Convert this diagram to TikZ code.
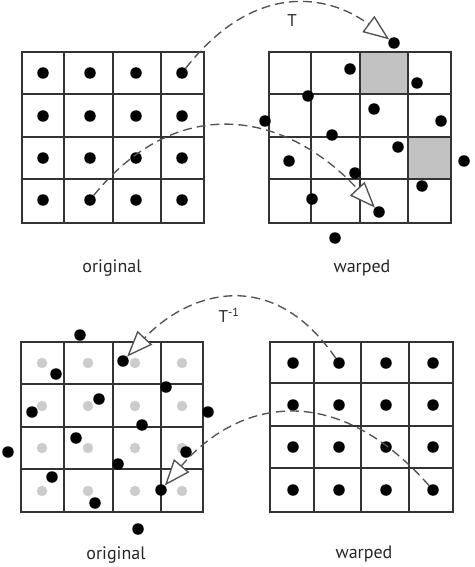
\documentclass[tikz,border=0pt]{standalone}
\usepackage{fontspec}
\setmainfont{PT Sans}
\usetikzlibrary{arrows.meta}
\begin{document}
\begin{tikzpicture}[x=1pt,y=-1pt,
  gridline/.style={draw=black!80, line width=1.3pt},
  cellfill/.style={fill=black!24},
  dot/.style={circle, fill=black, inner sep=0pt, minimum size=11.5pt},
  ghost/.style={circle, fill=black!20, inner sep=0pt, minimum size=10.5pt},
  warp/.style={draw=black!68, line width=1.35pt, dash pattern=on 9pt off 5pt,
    -{Triangle[length=26pt,width=20pt,fill=white]}},
  lbl/.style={font=\fontsize{18}{18}\selectfont, text=black!85, anchor=base, inner sep=0pt},
  tlbl/.style={font=\fontsize{17}{17}\selectfont, text=black!85, inner sep=0pt}]
\useasboundingbox (0,0) rectangle (474,567);

% shaded cells
\fill[cellfill] (360,52) rectangle (408,94);
\fill[cellfill] (408,137) rectangle (451,179);

% grids
\draw[gridline] (22,52) rectangle (204,223);
\foreach \x in {64,113,161} \draw[gridline] (\x,52) -- (\x,223);
\foreach \y in {94,137,179} \draw[gridline] (22,\y) -- (204,\y);

\draw[gridline] (269,52) rectangle (451,223);
\foreach \x in {311,360,408} \draw[gridline] (\x,52) -- (\x,223);
\foreach \y in {94,137,179} \draw[gridline] (269,\y) -- (451,\y);

\draw[gridline] (21,342) rectangle (203,512);
\foreach \x in {64,113,161} \draw[gridline] (\x,342) -- (\x,512);
\foreach \y in {384,427,469} \draw[gridline] (21,\y) -- (203,\y);

\draw[gridline] (270,342) rectangle (453,512);
\foreach \x in {314,361,409} \draw[gridline] (\x,342) -- (\x,512);
\foreach \y in {383,426,468} \draw[gridline] (270,\y) -- (453,\y);

% top-left regular dots
\foreach \x [count=\i] in {43,90,136,182}
  \foreach \y [count=\j] in {73,116,158,200}
    \node[dot] (tl\i\j) at (\x,\y) {};

% top-right warped dots
\foreach \p [count=\k] in {(394,43),(350,69),(417,83),(308,96),(374,109),(441,121),
  (265,121),(332,135),(398,147),(289,161),(464,161),(355,173),(422,186),(312,199),
  (379,212),(335,238)}
  \node[dot] (w\k) at \p {};

% bottom-left ghost dots
\foreach \x [count=\i] in {42,88,135,182}
  \foreach \y [count=\j] in {363,406,448,491}
    \node[ghost] (g\i\j) at (\x,\y) {};

% bottom-left resampled dots
\foreach \p [count=\k] in {(80,335),(123,361),(56,374),(166,387),(99,399),(32,412),
  (208,412),(142,425),(76,438),(8,452),(186,452),(118,464),(52,477),(161,490),
  (95,503),(138,529)}
  \node[dot] (o\k) at \p {};

% bottom-right regular dots
\foreach \x [count=\i] in {293,339,386,433}
  \foreach \y [count=\j] in {363,405,447,490}
    \node[dot] (br\i\j) at (\x,\y) {};

% arrows
\draw[warp] (tl41) .. controls (254,-19) and (328,-6) .. (w1);
\draw[warp] (tl24) .. controls (176,94) and (283,109) .. (w15);
\draw[warp] (br21) .. controls (269,261) and (184,296) .. (o2);
\draw[warp] (br44) .. controls (330,374) and (233,405) .. (o14);

% labels
\node[tlbl] (tT) at (292,21) {T};
\node[tlbl] (tTi) at (229,315) {T\textsuperscript{-1}};
\node[lbl] (lo1) at (112,272) {original};
\node[lbl] (lw1) at (362,272) {warped};
\node[lbl] (lo2) at (116,559) {original};
\node[lbl] (lw2) at (364,558) {warped};
\end{tikzpicture}
\end{document}
